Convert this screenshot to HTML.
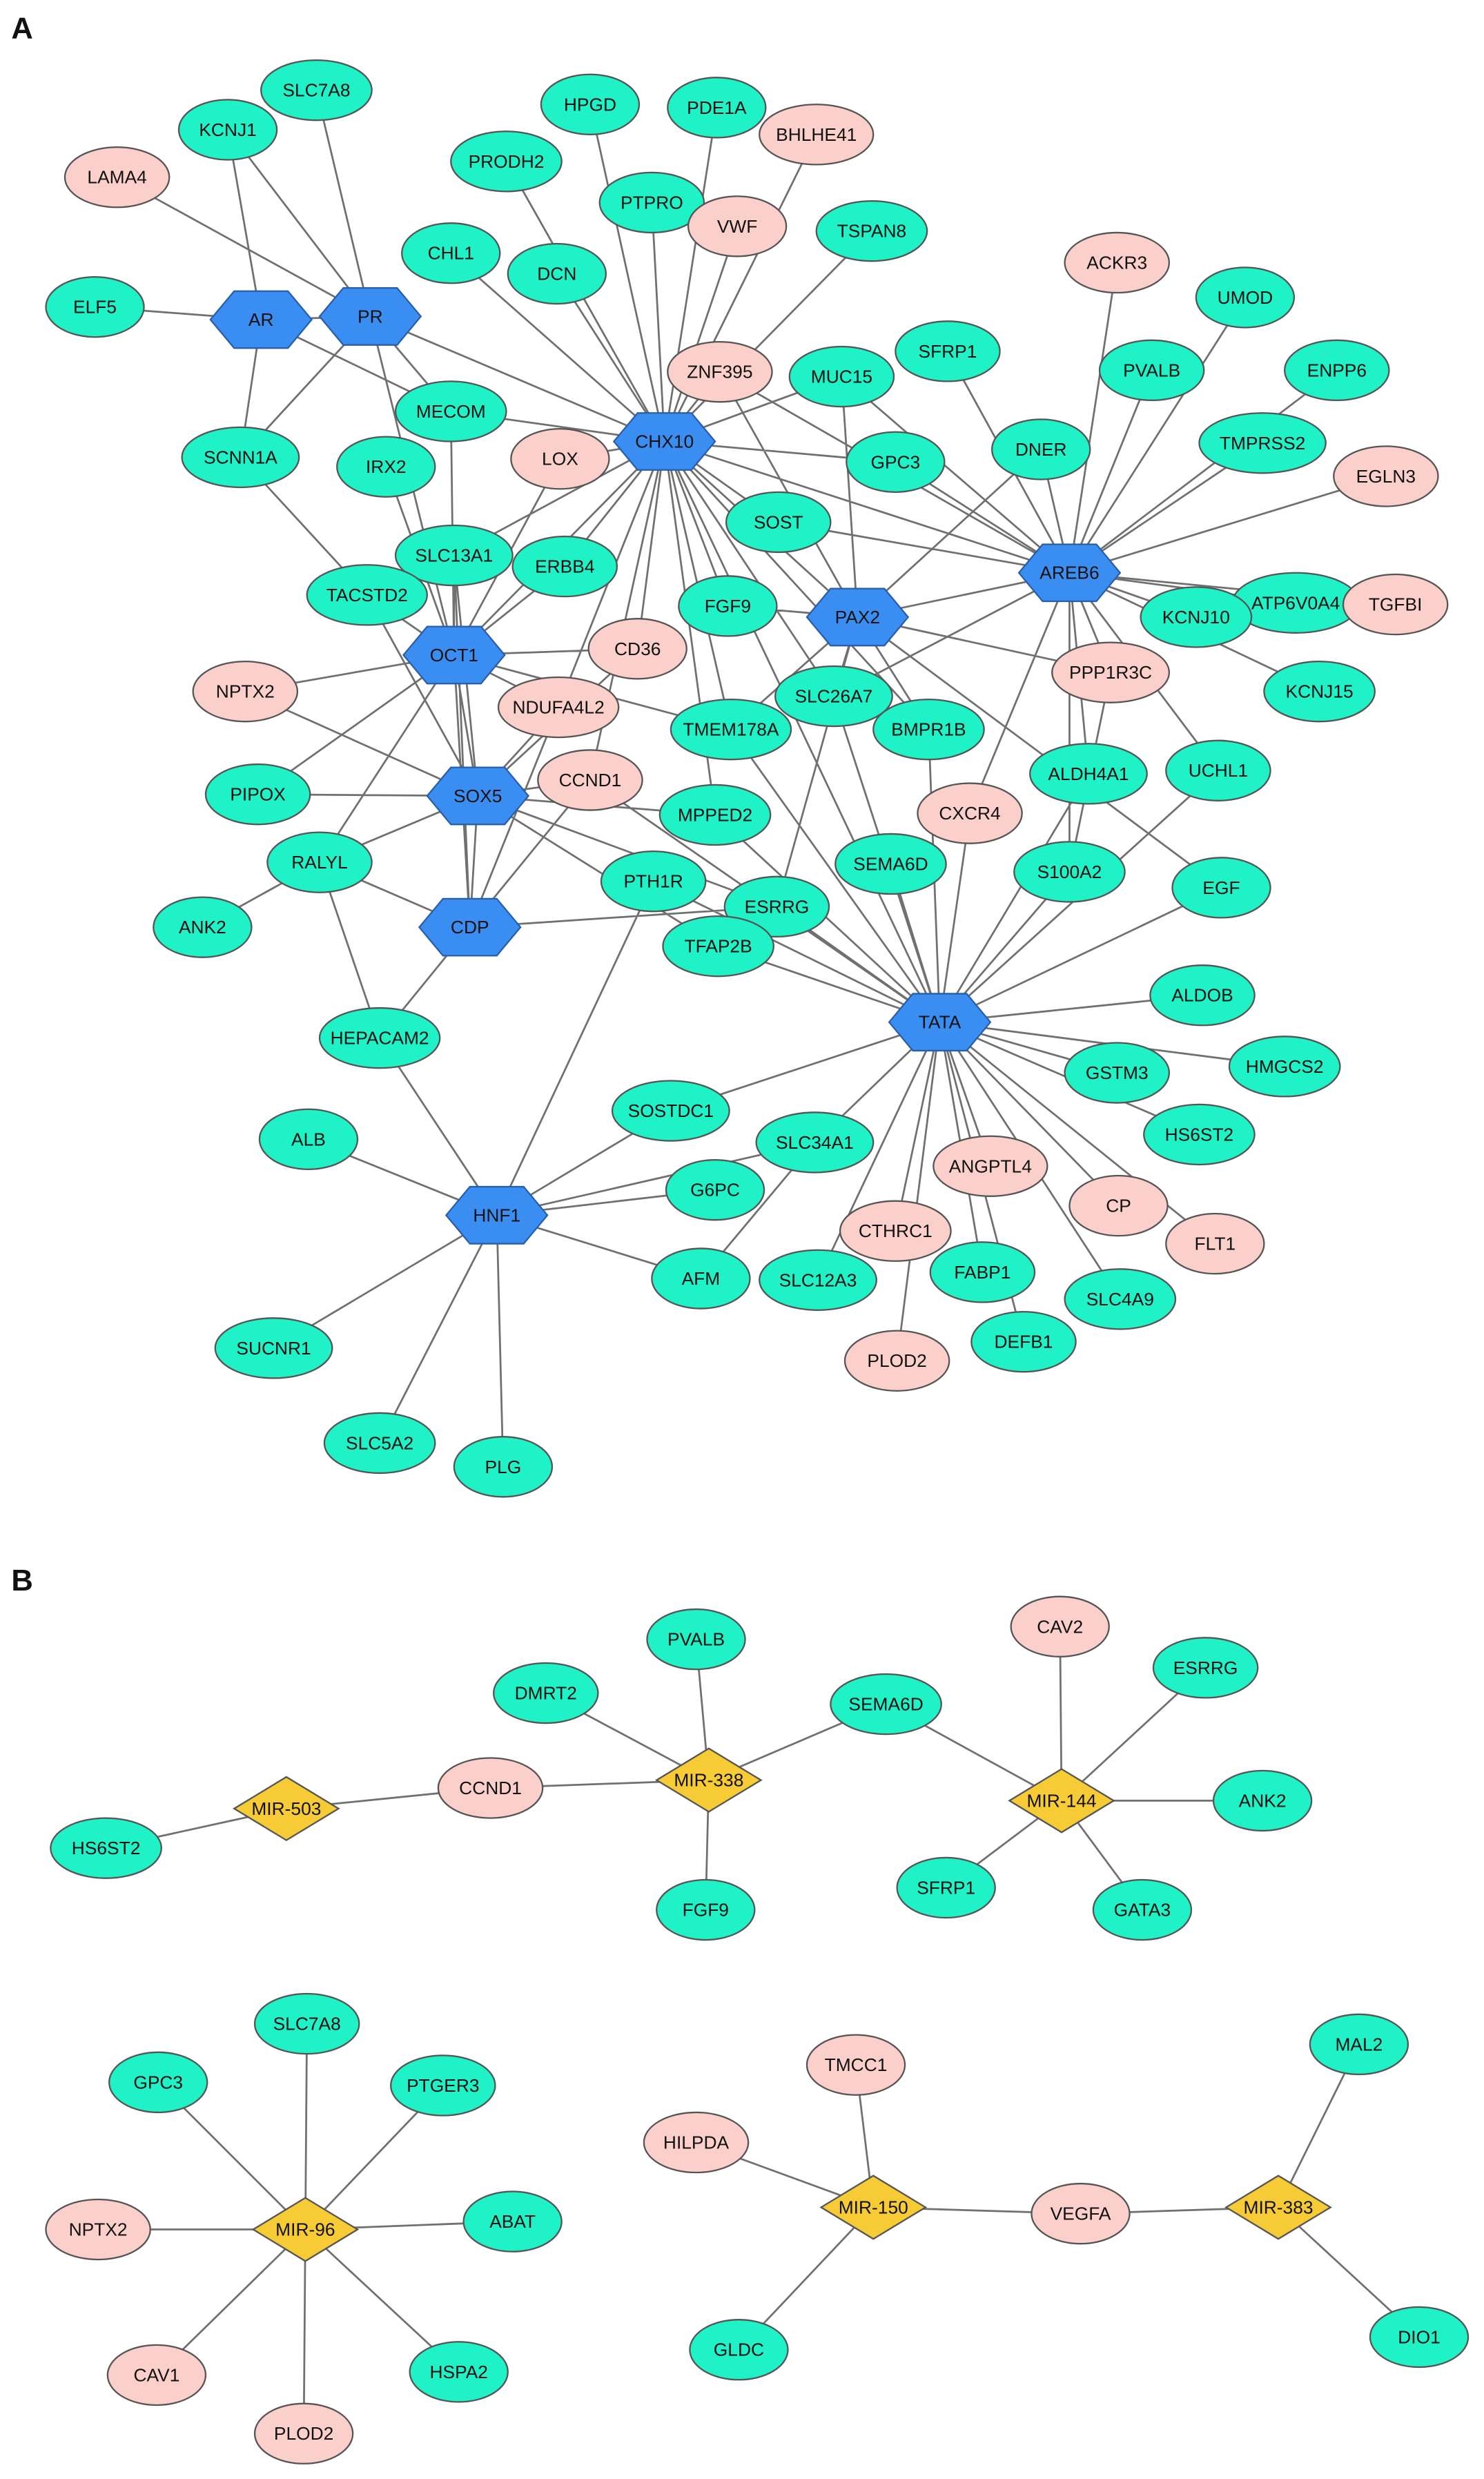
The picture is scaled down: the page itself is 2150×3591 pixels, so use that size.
<!DOCTYPE html>
<html><head><meta charset="utf-8"><style>
html,body{margin:0;padding:0;background:#fff;}
svg{display:block;}
text{font-family:"Liberation Sans",Arial,sans-serif;font-size:11.5px;fill:#111;text-anchor:middle;dominant-baseline:central;}
.t{fill:#1ff2c6;stroke:#555;stroke-width:1;}
.p{fill:#fbd0cb;stroke:#555;stroke-width:1;}
.e{stroke:#707070;stroke-width:1.2;fill:none;}
</style></head><body>
<svg width="2150" height="3591" viewBox="0 0 938 1566.7" xmlns="http://www.w3.org/2000/svg">
<defs>
<polygon id="h" points="-32,0 -17,-18 17,-18 32,0 17,18 -17,18" fill="#3a8ef2" stroke="#2a5fa8" stroke-width="1"/>
<polygon id="d" points="-33,0 0,-20 33,0 0,20" fill="#f6cb35" stroke="#555" stroke-width="1"/>
</defs>
<text x="14" y="18" style="font-size:19px;font-weight:bold">A</text>
<text x="14" y="999" style="font-size:19px;font-weight:bold">B</text>
<path class="e" d="
M234 200L200 57M234 200L144 82M234 200L74 112M234 200L285 260M234 200L152 289M234 200L420 279M234 200L165 202M234 200L287 414
M165 202L60 194M165 202L144 82M165 202L152 289M165 202L285 260
M420 279L373 66M420 279L453 68M420 279L412 128M420 279L516 85M420 279L466 143M420 279L551 146M420 279L285 160M420 279L352 173M420 279L320 102M420 279L455 235M420 279L532 238M420 279L354 290M420 279L285 260M420 279L566 292M420 279L492 330M420 279L357 358M420 279L460 383M420 279L287 351M420 279L462 461M420 279L527 440M420 279L403 410M420 279L353 447M420 279L287 414M420 279L676 362M420 279L594 646M420 279L542 390M420 279L587 461M420 279L452 515M420 279L373 493
M676 362L706 166M676 362L787 188M676 362L728 234M676 362L845 234M676 362L798 280M676 362L876 301M676 362L819 381M676 362L882 382M676 362L756 390M676 362L834 437M676 362L658 284M676 362L566 292M676 362L492 330M676 362L542 390M676 362L702 425M676 362L688 489M676 362L770 487M676 362L599 222M676 362L455 235M676 362L532 238M676 362L676 551M676 362L613 514M676 362L527 440
M542 390L532 238M542 390L658 284M542 390L460 383M542 390L527 440M542 390L587 461M542 390L491 573M542 390L462 461M542 390L702 425M542 390L772 561M542 390L455 235
M287 414L232 376M287 414L287 351M287 414L244 295M287 414L285 260M287 414L155 437M287 414L163 502M287 414L202 545M287 414L403 410M287 414L353 447M287 414L357 358M287 414L462 461M287 414L302 503M287 414L297 586M287 414L354 290
M302 503L163 502M302 503L202 545M302 503L373 493M302 503L452 515M302 503L403 410M302 503L353 447M302 503L232 376M302 503L287 351M302 503L454 598M302 503L297 586M302 503L491 573M302 503L155 437
M297 586L202 545M297 586L240 656M297 586L491 573M297 586L373 493M297 586L353 447M297 586L287 351
M314 768L195 720M314 768L240 656M314 768L424 702M314 768L452 752M314 768L515 722M314 768L443 808M314 768L173 852M314 768L240 912M314 768L318 927M314 768L413 557
M594 646L454 598M594 646L760 629M594 646L706 678M594 646L812 674M594 646L758 717M594 646L626 737M594 646L707 762M594 646L768 786M594 646L566 778M594 646L621 804M594 646L708 821M594 646L647 848M594 646L567 860M594 646L517 809M594 646L515 722M594 646L424 702M594 646L772 561M594 646L676 551M594 646L563 546M594 646L613 514M594 646L491 573M594 646L452 515M594 646L462 461M594 646L527 440M594 646L587 461M594 646L688 489M594 646L770 487M594 646L373 493M594 646L413 557
M202 545L128 586M152 289L232 376M515 722L443 808M240 656L202 545M702 425L676 551
M181 1143L67 1168M181 1143L310 1130M310 1130L448 1125M448 1125L345 1070M448 1125L440 1036M448 1125L560 1077M448 1125L446 1207M560 1077L671 1138M671 1138L670 1028M671 1138L762 1054M671 1138L798 1138M671 1138L598 1193M671 1138L722 1207
M193 1409L194 1279M193 1409L100 1316M193 1409L280 1318M193 1409L62 1409M193 1409L324 1404M193 1409L99 1501M193 1409L290 1499M193 1409L192 1538
M552 1395L541 1305M552 1395L440 1354M552 1395L467 1485M552 1395L683 1399M683 1399L808 1395M808 1395L859 1292M808 1395L897 1477"/>
<g>
<ellipse class="t" cx="200" cy="57" rx="35" ry="19"/><text x="200" y="57">SLC7A8</text>
<ellipse class="t" cx="144" cy="82" rx="31" ry="19"/><text x="144" y="82">KCNJ1</text>
<ellipse class="t" cx="60" cy="194" rx="31" ry="19"/><text x="60" y="194">ELF5</text>
<ellipse class="t" cx="373" cy="66" rx="31" ry="19"/><text x="373" y="66">HPGD</text>
<ellipse class="t" cx="453" cy="68" rx="31" ry="19"/><text x="453" y="68">PDE1A</text>
<ellipse class="t" cx="320" cy="102" rx="35" ry="19"/><text x="320" y="102">PRODH2</text>
<ellipse class="t" cx="412" cy="128" rx="33" ry="19"/><text x="412" y="128">PTPRO</text>
<ellipse class="t" cx="551" cy="146" rx="35" ry="19"/><text x="551" y="146">TSPAN8</text>
<ellipse class="t" cx="285" cy="160" rx="31" ry="19"/><text x="285" y="160">CHL1</text>
<ellipse class="t" cx="352" cy="173" rx="31" ry="19"/><text x="352" y="173">DCN</text>
<ellipse class="t" cx="532" cy="238" rx="33" ry="19"/><text x="532" y="238">MUC15</text>
<ellipse class="t" cx="599" cy="222" rx="33" ry="19"/><text x="599" y="222">SFRP1</text>
<ellipse class="t" cx="787" cy="188" rx="31" ry="19"/><text x="787" y="188">UMOD</text>
<ellipse class="t" cx="728" cy="234" rx="33" ry="19"/><text x="728" y="234">PVALB</text>
<ellipse class="t" cx="845" cy="234" rx="33" ry="19"/><text x="845" y="234">ENPP6</text>
<ellipse class="t" cx="285" cy="260" rx="35" ry="19"/><text x="285" y="260">MECOM</text>
<ellipse class="t" cx="244" cy="295" rx="31" ry="19"/><text x="244" y="295">IRX2</text>
<ellipse class="t" cx="152" cy="289" rx="37" ry="19"/><text x="152" y="289">SCNN1A</text>
<ellipse class="t" cx="566" cy="292" rx="31" ry="19"/><text x="566" y="292">GPC3</text>
<ellipse class="t" cx="658" cy="284" rx="31" ry="19"/><text x="658" y="284">DNER</text>
<ellipse class="t" cx="798" cy="280" rx="40" ry="19"/><text x="798" y="280">TMPRSS2</text>
<ellipse class="t" cx="492" cy="330" rx="33" ry="19"/><text x="492" y="330">SOST</text>
<ellipse class="t" cx="287" cy="351" rx="37" ry="19"/><text x="287" y="351">SLC13A1</text>
<ellipse class="t" cx="357" cy="358" rx="33" ry="19"/><text x="357" y="358">ERBB4</text>
<ellipse class="t" cx="232" cy="376" rx="38" ry="19"/><text x="232" y="376">TACSTD2</text>
<ellipse class="t" cx="460" cy="383" rx="31" ry="19"/><text x="460" y="383">FGF9</text>
<ellipse class="t" cx="819" cy="381" rx="40" ry="19"/><text x="819" y="381">ATP6V0A4</text>
<ellipse class="t" cx="756" cy="390" rx="35" ry="19"/><text x="756" y="390">KCNJ10</text>
<ellipse class="t" cx="834" cy="437" rx="35" ry="19"/><text x="834" y="437">KCNJ15</text>
<ellipse class="t" cx="462" cy="461" rx="38" ry="19"/><text x="462" y="461">TMEM178A</text>
<ellipse class="t" cx="527" cy="440" rx="37" ry="19"/><text x="527" y="440">SLC26A7</text>
<ellipse class="t" cx="587" cy="461" rx="35" ry="19"/><text x="587" y="461">BMPR1B</text>
<ellipse class="t" cx="163" cy="502" rx="33" ry="19"/><text x="163" y="502">PIPOX</text>
<ellipse class="t" cx="688" cy="489" rx="37" ry="19"/><text x="688" y="489">ALDH4A1</text>
<ellipse class="t" cx="770" cy="487" rx="33" ry="19"/><text x="770" y="487">UCHL1</text>
<ellipse class="t" cx="452" cy="515" rx="35" ry="19"/><text x="452" y="515">MPPED2</text>
<ellipse class="t" cx="202" cy="545" rx="33" ry="19"/><text x="202" y="545">RALYL</text>
<ellipse class="t" cx="563" cy="546" rx="35" ry="19"/><text x="563" y="546">SEMA6D</text>
<ellipse class="t" cx="676" cy="551" rx="35" ry="19"/><text x="676" y="551">S100A2</text>
<ellipse class="t" cx="772" cy="561" rx="31" ry="19"/><text x="772" y="561">EGF</text>
<ellipse class="t" cx="413" cy="557" rx="33" ry="19"/><text x="413" y="557">PTH1R</text>
<ellipse class="t" cx="491" cy="573" rx="33" ry="19"/><text x="491" y="573">ESRRG</text>
<ellipse class="t" cx="128" cy="586" rx="31" ry="19"/><text x="128" y="586">ANK2</text>
<ellipse class="t" cx="454" cy="598" rx="35" ry="19"/><text x="454" y="598">TFAP2B</text>
<ellipse class="t" cx="240" cy="656" rx="38" ry="19"/><text x="240" y="656">HEPACAM2</text>
<ellipse class="t" cx="760" cy="629" rx="33" ry="19"/><text x="760" y="629">ALDOB</text>
<ellipse class="t" cx="812" cy="674" rx="35" ry="19"/><text x="812" y="674">HMGCS2</text>
<ellipse class="t" cx="706" cy="678" rx="33" ry="19"/><text x="706" y="678">GSTM3</text>
<ellipse class="t" cx="195" cy="720" rx="31" ry="19"/><text x="195" y="720">ALB</text>
<ellipse class="t" cx="424" cy="702" rx="37" ry="19"/><text x="424" y="702">SOSTDC1</text>
<ellipse class="t" cx="758" cy="717" rx="35" ry="19"/><text x="758" y="717">HS6ST2</text>
<ellipse class="t" cx="515" cy="722" rx="37" ry="19"/><text x="515" y="722">SLC34A1</text>
<ellipse class="t" cx="452" cy="752" rx="31" ry="19"/><text x="452" y="752">G6PC</text>
<ellipse class="t" cx="443" cy="808" rx="31" ry="19"/><text x="443" y="808">AFM</text>
<ellipse class="t" cx="517" cy="809" rx="37" ry="19"/><text x="517" y="809">SLC12A3</text>
<ellipse class="t" cx="621" cy="804" rx="33" ry="19"/><text x="621" y="804">FABP1</text>
<ellipse class="t" cx="708" cy="821" rx="35" ry="19"/><text x="708" y="821">SLC4A9</text>
<ellipse class="t" cx="647" cy="848" rx="33" ry="19"/><text x="647" y="848">DEFB1</text>
<ellipse class="t" cx="173" cy="852" rx="37" ry="19"/><text x="173" y="852">SUCNR1</text>
<ellipse class="t" cx="240" cy="912" rx="35" ry="19"/><text x="240" y="912">SLC5A2</text>
<ellipse class="t" cx="318" cy="927" rx="31" ry="19"/><text x="318" y="927">PLG</text>
<ellipse class="p" cx="74" cy="112" rx="33" ry="19"/><text x="74" y="112">LAMA4</text>
<ellipse class="p" cx="516" cy="85" rx="36" ry="19"/><text x="516" y="85">BHLHE41</text>
<ellipse class="p" cx="466" cy="143" rx="31" ry="19"/><text x="466" y="143">VWF</text>
<ellipse class="p" cx="706" cy="166" rx="33" ry="19"/><text x="706" y="166">ACKR3</text>
<ellipse class="p" cx="455" cy="235" rx="33" ry="19"/><text x="455" y="235">ZNF395</text>
<ellipse class="p" cx="354" cy="290" rx="31" ry="19"/><text x="354" y="290">LOX</text>
<ellipse class="p" cx="876" cy="301" rx="33" ry="19"/><text x="876" y="301">EGLN3</text>
<ellipse class="p" cx="882" cy="382" rx="33" ry="19"/><text x="882" y="382">TGFBI</text>
<ellipse class="p" cx="403" cy="410" rx="31" ry="19"/><text x="403" y="410">CD36</text>
<ellipse class="p" cx="702" cy="425" rx="37" ry="19"/><text x="702" y="425">PPP1R3C</text>
<ellipse class="p" cx="155" cy="437" rx="33" ry="19"/><text x="155" y="437">NPTX2</text>
<ellipse class="p" cx="353" cy="447" rx="38" ry="19"/><text x="353" y="447">NDUFA4L2</text>
<ellipse class="p" cx="373" cy="493" rx="33" ry="19"/><text x="373" y="493">CCND1</text>
<ellipse class="p" cx="613" cy="514" rx="33" ry="19"/><text x="613" y="514">CXCR4</text>
<ellipse class="p" cx="626" cy="737" rx="36" ry="19"/><text x="626" y="737">ANGPTL4</text>
<ellipse class="p" cx="707" cy="762" rx="31" ry="19"/><text x="707" y="762">CP</text>
<ellipse class="p" cx="566" cy="778" rx="35" ry="19"/><text x="566" y="778">CTHRC1</text>
<ellipse class="p" cx="768" cy="786" rx="31" ry="19"/><text x="768" y="786">FLT1</text>
<ellipse class="p" cx="567" cy="860" rx="33" ry="19"/><text x="567" y="860">PLOD2</text>
</g>
<g>
<use href="#h" x="165" y="202"/><text x="165" y="202">AR</text>
<use href="#h" x="234" y="200"/><text x="234" y="200">PR</text>
<use href="#h" x="420" y="279"/><text x="420" y="279">CHX10</text>
<use href="#h" x="676" y="362"/><text x="676" y="362">AREB6</text>
<use href="#h" x="542" y="390"/><text x="542" y="390">PAX2</text>
<use href="#h" x="287" y="414"/><text x="287" y="414">OCT1</text>
<use href="#h" x="302" y="503"/><text x="302" y="503">SOX5</text>
<use href="#h" x="297" y="586"/><text x="297" y="586">CDP</text>
<use href="#h" x="594" y="646"/><text x="594" y="646">TATA</text>
<use href="#h" x="314" y="768"/><text x="314" y="768">HNF1</text>
</g>
<g>
<ellipse class="t" cx="67" cy="1168" rx="35" ry="19"/><text x="67" y="1168">HS6ST2</text>
<ellipse class="p" cx="310" cy="1130" rx="33" ry="19"/><text x="310" y="1130">CCND1</text>
<ellipse class="t" cx="345" cy="1070" rx="33" ry="19"/><text x="345" y="1070">DMRT2</text>
<ellipse class="t" cx="440" cy="1036" rx="31" ry="19"/><text x="440" y="1036">PVALB</text>
<ellipse class="t" cx="560" cy="1077" rx="35" ry="19"/><text x="560" y="1077">SEMA6D</text>
<ellipse class="t" cx="446" cy="1207" rx="31" ry="19"/><text x="446" y="1207">FGF9</text>
<ellipse class="p" cx="670" cy="1028" rx="31" ry="19"/><text x="670" y="1028">CAV2</text>
<ellipse class="t" cx="762" cy="1054" rx="33" ry="19"/><text x="762" y="1054">ESRRG</text>
<ellipse class="t" cx="798" cy="1138" rx="31" ry="19"/><text x="798" y="1138">ANK2</text>
<ellipse class="t" cx="598" cy="1193" rx="31" ry="19"/><text x="598" y="1193">SFRP1</text>
<ellipse class="t" cx="722" cy="1207" rx="31" ry="19"/><text x="722" y="1207">GATA3</text>
<ellipse class="t" cx="194" cy="1279" rx="33" ry="19"/><text x="194" y="1279">SLC7A8</text>
<ellipse class="t" cx="100" cy="1316" rx="31" ry="19"/><text x="100" y="1316">GPC3</text>
<ellipse class="t" cx="280" cy="1318" rx="33" ry="19"/><text x="280" y="1318">PTGER3</text>
<ellipse class="p" cx="62" cy="1409" rx="33" ry="19"/><text x="62" y="1409">NPTX2</text>
<ellipse class="t" cx="324" cy="1404" rx="31" ry="19"/><text x="324" y="1404">ABAT</text>
<ellipse class="p" cx="99" cy="1501" rx="31" ry="19"/><text x="99" y="1501">CAV1</text>
<ellipse class="t" cx="290" cy="1499" rx="31" ry="19"/><text x="290" y="1499">HSPA2</text>
<ellipse class="p" cx="192" cy="1538" rx="31" ry="19"/><text x="192" y="1538">PLOD2</text>
<ellipse class="p" cx="541" cy="1305" rx="31" ry="19"/><text x="541" y="1305">TMCC1</text>
<ellipse class="p" cx="440" cy="1354" rx="33" ry="19"/><text x="440" y="1354">HILPDA</text>
<ellipse class="p" cx="683" cy="1399" rx="31" ry="19"/><text x="683" y="1399">VEGFA</text>
<ellipse class="t" cx="859" cy="1292" rx="31" ry="19"/><text x="859" y="1292">MAL2</text>
<ellipse class="t" cx="467" cy="1485" rx="31" ry="19"/><text x="467" y="1485">GLDC</text>
<ellipse class="t" cx="897" cy="1477" rx="31" ry="19"/><text x="897" y="1477">DIO1</text>
<use href="#d" x="181" y="1143"/><text x="181" y="1143">MIR-503</text>
<use href="#d" x="448" y="1125"/><text x="448" y="1125">MIR-338</text>
<use href="#d" x="671" y="1138"/><text x="671" y="1138">MIR-144</text>
<use href="#d" x="193" y="1409"/><text x="193" y="1409">MIR-96</text>
<use href="#d" x="552" y="1395"/><text x="552" y="1395">MIR-150</text>
<use href="#d" x="808" y="1395"/><text x="808" y="1395">MIR-383</text>
</g>
</svg>
</body></html>
